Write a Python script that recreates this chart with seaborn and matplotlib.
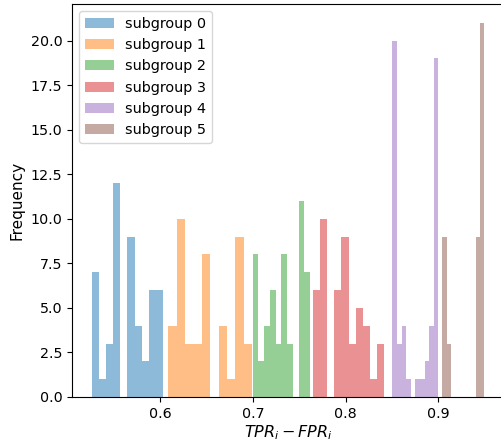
import matplotlib
matplotlib.use("Agg")
import matplotlib.pyplot as plt
import seaborn as sns
import numpy as np

# Histogram counts per subgroup (10 bins each)
counts_0 = [7, 1, 3, 12, 0, 9, 4, 2, 6, 6]
counts_1 = [4, 10, 3, 3, 8, 0, 4, 1, 9, 3]
counts_2 = [8, 2, 4, 6, 3, 8, 3, 0, 11, 7]
counts_3 = [6, 10, 0, 6, 9, 3, 5, 4, 1, 3]
counts_4 = [20, 3, 4, 1, 0, 1, 1, 2, 4, 19]
counts_5 = [9, 3, 0, 0, 0, 0, 0, 0, 9, 21]

# Range (min, max) of TPR_i - FPR_i for each subgroup
ranges = [
    (0.5256, 0.6030),
    (0.6084, 0.6992),
    (0.6997, 0.7616),
    (0.7645, 0.8419),
    (0.8506, 0.9003),
    (0.9046, 0.9500),
]

labels = [f"subgroup {i}" for i in range(6)]
all_counts = [counts_0, counts_1, counts_2, counts_3, counts_4, counts_5]
colors = sns.color_palette("tab10", 6)

fig = plt.figure(figsize=(5.01, 4.42), dpi=100)
ax = fig.add_axes([72 / 501, 45 / 442, 432 / 501, 393 / 442])

for counts, (lo, hi), color, label in zip(all_counts, ranges, colors, labels):
    edges = np.linspace(lo, hi, len(counts) + 1)
    centers = (edges[:-1] + edges[1:]) / 2
    sns.histplot(
        x=centers,
        weights=counts,
        bins=len(counts),
        binrange=(lo, hi),
        color=color,
        alpha=0.5,
        linewidth=0,
        label=label,
        ax=ax,
    )

ax.tick_params(labelsize=10.3)
ax.set_xlabel("$TPR_i - FPR_i$", fontsize=11.5, labelpad=1.5)
ax.set_ylabel("Frequency", fontsize=11)
ax.legend(loc="upper left", fontsize=10.4)

fig.savefig("out.png", dpi=100)
